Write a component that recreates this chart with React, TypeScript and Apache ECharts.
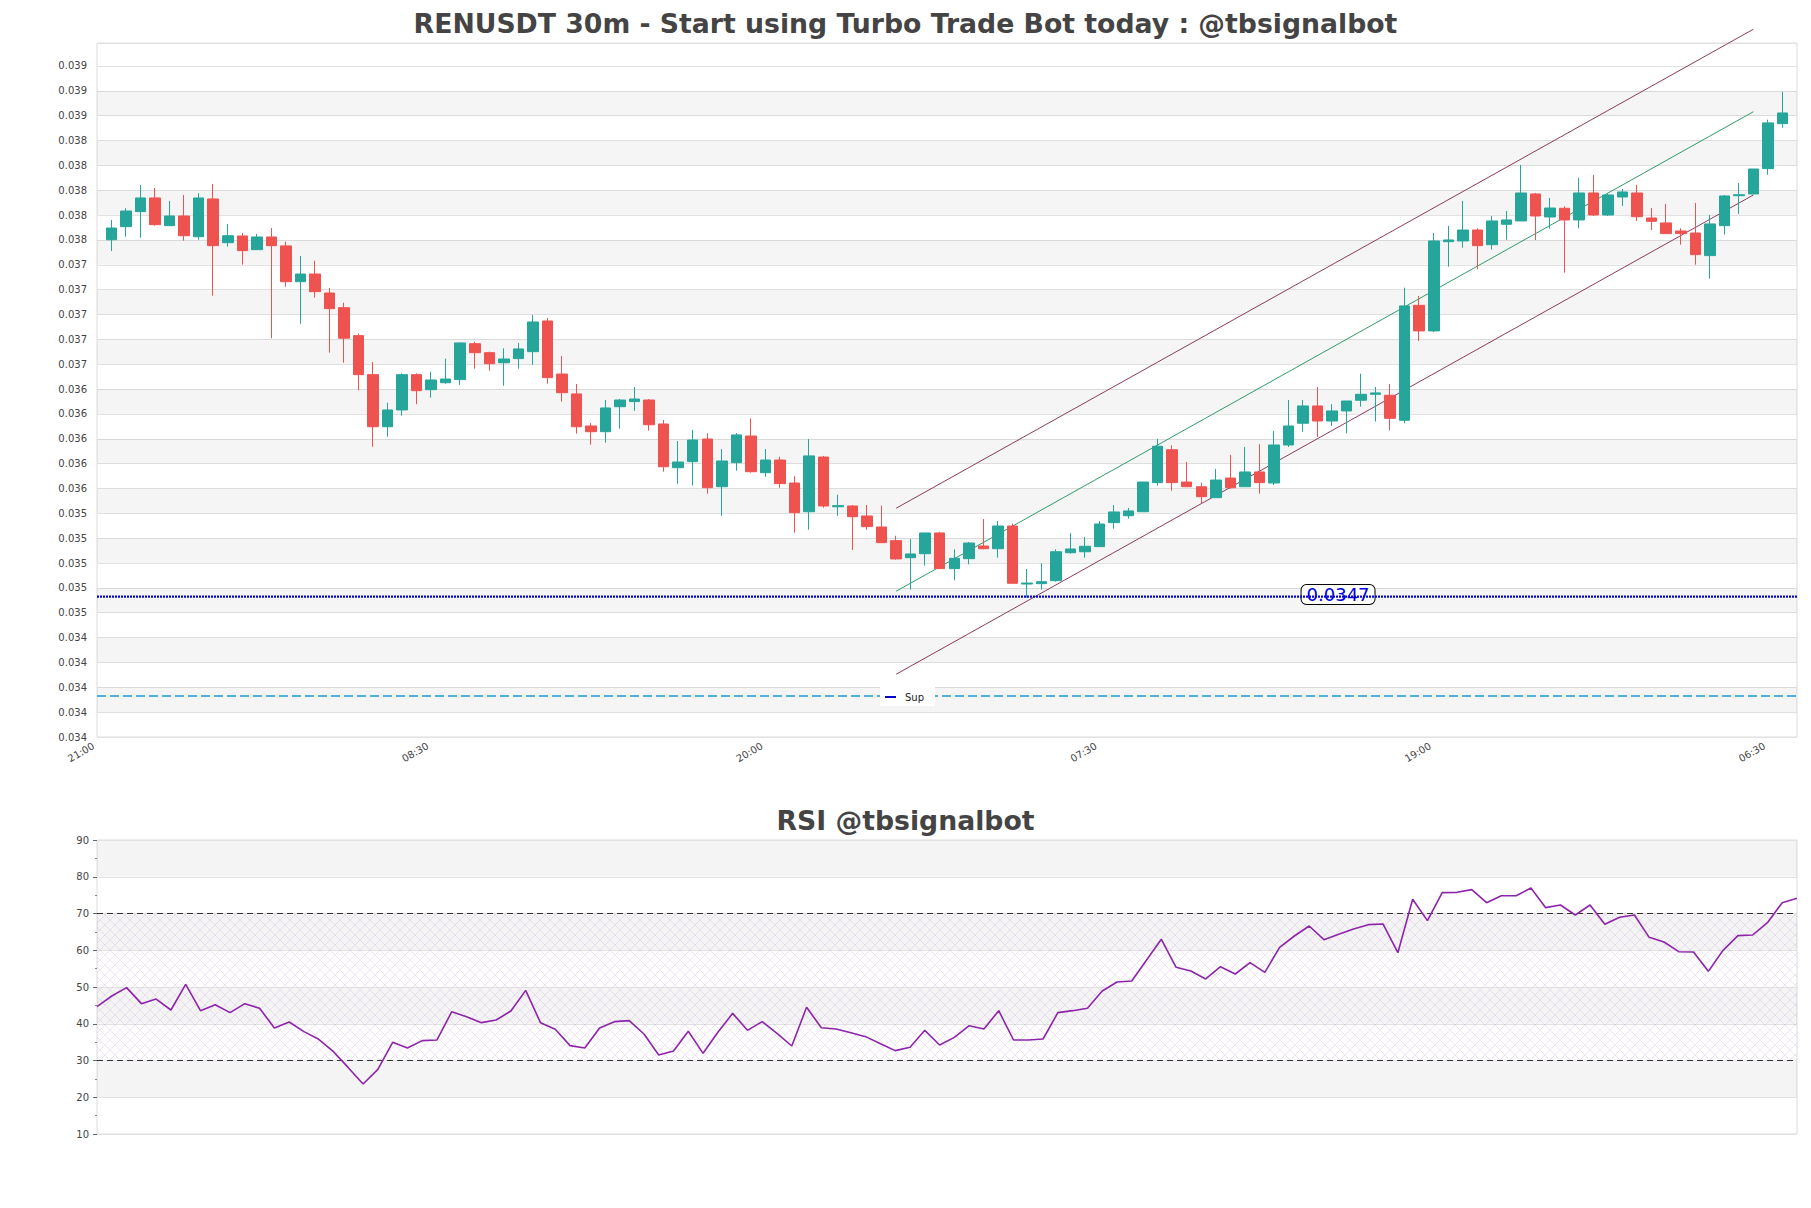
import React, { useEffect, useRef } from 'react';
import * as echarts from 'echarts';

// ---------- axis / categories ----------
const START_MINUTES = 21 * 60; // first category: 21:00
const STEP_MINUTES = 30;
const MAIN_CATEGORY_COUNT = 118; // 21:00 ... 07:30 (candles occupy 1..116)
const xTickEvery = 23;

// ---------- candles (30m) ----------
const opens = [
  0.037602, 0.037707, 0.037828, 0.037938, 0.037715, 0.037793, 0.037626, 0.037930, 0.037578, 0.037632,
  0.037522, 0.037624, 0.037552, 0.037264, 0.037326, 0.037173, 0.037055, 0.036830, 0.036516, 0.036097,
  0.036232, 0.036516, 0.036395, 0.036451, 0.036476, 0.036765, 0.036693, 0.036612, 0.036645, 0.036701,
  0.036948, 0.036521, 0.036361, 0.036103, 0.036057, 0.036258, 0.036299, 0.036312, 0.036119, 0.035767,
  0.035816, 0.035998, 0.035614, 0.035808, 0.036022, 0.035727, 0.035829, 0.035644, 0.035413, 0.035853,
  0.035453, 0.035459, 0.035379, 0.035290, 0.035180, 0.035043, 0.035075, 0.035242, 0.034955, 0.035035,
  0.035137, 0.035115, 0.035298, 0.034831, 0.034834, 0.034858, 0.035083, 0.035091, 0.035132, 0.035325,
  0.035381, 0.035413, 0.035647, 0.035912, 0.035652, 0.035614, 0.035526, 0.035684, 0.035614, 0.035733,
  0.035644, 0.035950, 0.036125, 0.036264, 0.036143, 0.036224, 0.036310, 0.036358, 0.036350, 0.036149,
  0.037074, 0.036868, 0.037586, 0.037592, 0.037680, 0.037562, 0.037726, 0.037753, 0.037970, 0.037785,
  0.037855, 0.037761, 0.037978, 0.037801, 0.037946, 0.037978, 0.037777, 0.037737, 0.037672, 0.037656,
  0.037474, 0.037715, 0.037956, 0.037970, 0.038174, 0.038536,
];
const closes = [
  0.037696, 0.037833, 0.037938, 0.037723, 0.037793, 0.037634, 0.037938, 0.037554, 0.037634, 0.037514,
  0.037624, 0.037554, 0.037264, 0.037326, 0.037184, 0.037047, 0.036809, 0.036516, 0.036097, 0.036232,
  0.036516, 0.036387, 0.036473, 0.036481, 0.036771, 0.036693, 0.036604, 0.036642, 0.036723, 0.036940,
  0.036492, 0.036371, 0.036097, 0.036057, 0.036248, 0.036312, 0.036320, 0.036113, 0.035775, 0.035813,
  0.035990, 0.035606, 0.035821, 0.036031, 0.035735, 0.035829, 0.035639, 0.035405, 0.035862, 0.035459,
  0.035462, 0.035373, 0.035293, 0.035164, 0.035033, 0.035073, 0.035242, 0.034955, 0.035038, 0.035161,
  0.035115, 0.035298, 0.034837, 0.034839, 0.034850, 0.035091, 0.035113, 0.035135, 0.035314, 0.035411,
  0.035419, 0.035652, 0.035940, 0.035647, 0.035614, 0.035534, 0.035668, 0.035606, 0.035733, 0.035647,
  0.035950, 0.036103, 0.036264, 0.036143, 0.036224, 0.036304, 0.036358, 0.036369, 0.036165, 0.037069,
  0.036868, 0.037592, 0.037600, 0.037680, 0.037554, 0.037753, 0.037761, 0.037978, 0.037793, 0.037857,
  0.037761, 0.037978, 0.037801, 0.037962, 0.037986, 0.037787, 0.037750, 0.037651, 0.037651, 0.037482,
  0.037729, 0.037954, 0.037964, 0.038171, 0.038542, 0.038622,
];
const lows = [
  0.037511, 0.037626, 0.037618, 0.037715, 0.037715, 0.037594, 0.037602, 0.037152, 0.037546, 0.037401,
  0.037522, 0.036809, 0.037224, 0.036926, 0.037136, 0.036693, 0.036612, 0.036390, 0.035936, 0.036017,
  0.036186, 0.036278, 0.036331, 0.036443, 0.036433, 0.036564, 0.036548, 0.036427, 0.036564, 0.036596,
  0.036443, 0.036299, 0.036041, 0.035952, 0.035969, 0.036081, 0.036226, 0.036065, 0.035735, 0.035639,
  0.035623, 0.035558, 0.035381, 0.035743, 0.035727, 0.035695, 0.035606, 0.035244, 0.035268, 0.035445,
  0.035381, 0.035105, 0.035268, 0.035164, 0.035027, 0.034786, 0.034979, 0.034952, 0.034861, 0.034990,
  0.035111, 0.035043, 0.034837, 0.034721, 0.034786, 0.034850, 0.035075, 0.035043, 0.035132, 0.035276,
  0.035357, 0.035413, 0.035623, 0.035582, 0.035614, 0.035478, 0.035526, 0.035598, 0.035614, 0.035558,
  0.035628, 0.035934, 0.036057, 0.036014, 0.036103, 0.036044, 0.036258, 0.036138, 0.036068, 0.036125,
  0.036787, 0.036859, 0.037385, 0.037538, 0.037364, 0.037522, 0.037602, 0.037753, 0.037600, 0.037691,
  0.037337, 0.037694, 0.037793, 0.037793, 0.037874, 0.037753, 0.037680, 0.037651, 0.037562, 0.037401,
  0.037288, 0.037643, 0.037809, 0.037970, 0.038125, 0.038504,
];
const highs = [
  0.037761, 0.037855, 0.038043, 0.038018, 0.037914, 0.037962, 0.037976, 0.038051, 0.037729, 0.037656,
  0.037648, 0.037696, 0.037586, 0.037471, 0.037433, 0.037214, 0.037095, 0.036846, 0.036618, 0.036290,
  0.036527, 0.036527, 0.036540, 0.036645, 0.036775, 0.036781, 0.036701, 0.036728, 0.036771, 0.036996,
  0.036972, 0.036666, 0.036441, 0.036127, 0.036312, 0.036320, 0.036417, 0.036320, 0.036151, 0.035982,
  0.036071, 0.036044, 0.035918, 0.036047, 0.036165, 0.035918, 0.035856, 0.035698, 0.035998, 0.035862,
  0.035550, 0.035467, 0.035467, 0.035462, 0.035220, 0.035193, 0.035242, 0.035250, 0.035111, 0.035169,
  0.035354, 0.035338, 0.035317, 0.034952, 0.034998, 0.035111, 0.035242, 0.035210, 0.035338, 0.035467,
  0.035443, 0.035652, 0.035998, 0.035948, 0.035813, 0.035647, 0.035757, 0.035870, 0.035934, 0.035956,
  0.036063, 0.036312, 0.036312, 0.036417, 0.036278, 0.036304, 0.036524, 0.036417, 0.036441, 0.037216,
  0.037149, 0.037656, 0.037713, 0.037914, 0.037694, 0.037793, 0.037833, 0.038204, 0.037978, 0.037938,
  0.037871, 0.038099, 0.038123, 0.037978, 0.038010, 0.038043, 0.037857, 0.037890, 0.037694, 0.037898,
  0.037801, 0.037962, 0.038059, 0.038171, 0.038568, 0.038791,
];

// ---------- RSI ----------
const rsiValues = [
  44.65, 47.55, 49.82, 45.47, 46.73, 43.74, 50.73, 43.56, 45.19, 43.02,
  45.47, 44.2, 38.84, 40.48, 37.85, 35.76, 32.4, 28.05, 23.6, 27.6,
  34.94, 33.4, 35.4, 35.58, 43.29, 41.93, 40.3, 41.02, 43.47, 49.09,
  40.3, 38.48, 34.04, 33.4, 38.84, 40.57, 40.84, 37.21, 31.5, 32.59,
  37.94, 31.95, 37.67, 42.83, 38.21, 40.57, 37.39, 33.95, 44.47, 38.93,
  38.57, 37.57, 36.49, 34.58, 32.68, 33.58, 38.21, 34.22, 36.3, 39.48,
  38.57, 43.56, 35.58, 35.58, 35.85, 43.02, 43.56, 44.2, 48.91, 51.36,
  51.63, 57.35, 62.97, 55.35, 54.35, 52.18, 55.53, 53.54, 56.62, 53.99,
  60.79, 63.88, 66.6, 62.88, 64.33, 65.78, 66.96, 67.14, 59.34, 73.86,
  68.05, 75.67, 75.76, 76.49, 72.95, 74.85, 74.85, 76.94, 71.59, 72.31,
  69.59, 72.31, 67.05, 68.96, 69.59, 63.51, 62.24, 59.61, 59.52, 54.26,
  59.98, 63.97, 64.15, 67.5, 72.95, 74.13,
];
const rsiOverbought = 70;
const rsiOversold = 30;
const rsiMin = 10;
const rsiMax = 90;
const rsiStep = 10;

// ---------- price axis ----------
const priceMin = 0.0336;
const priceMax = 0.039185;
const priceStep = 0.0002;

// ---------- levels / channel ----------
const supportLevel = 0.03473;
const supportText = '0.0347';
const supportLabelCategory = 85;
const lowerLevel = 0.03393;
const channelX = [55, 114];
const channelUpper = [0.035441, 0.039296];
const channelMid = [0.034773, 0.038632];
const channelLower = [0.034105, 0.037962];

const mainTitle = 'RENUSDT 30m - Start using Turbo Trade Bot today : @tbsignalbot';
const rsiTitle = 'RSI @tbsignalbot';
const legendText = 'Sup';

const FONT = "'DejaVu Sans', 'Liberation Sans', sans-serif";
const UP = '#26a69a';
const DOWN = '#ef5350';

function timeLabel(i: number): string {
  const m = (START_MINUTES + i * STEP_MINUTES) % 1440;
  const hh = String(Math.floor(m / 60)).padStart(2, '0');
  const mm = String(m % 60).padStart(2, '0');
  return `${hh}:${mm}`;
}

function makeHatch() {
  const size = 10;
  const c = document.createElement('canvas');
  c.width = size;
  c.height = size;
  const g = c.getContext('2d');
  if (g) {
    g.strokeStyle = 'rgba(190,150,210,0.42)';
    g.lineWidth = 0.6;
    g.beginPath();
    g.moveTo(0, 0);
    g.lineTo(size, size);
    g.moveTo(size, 0);
    g.lineTo(0, size);
    g.stroke();
  }
  return { image: c, repeat: 'repeat', imageWidth: size, imageHeight: size };
}

function buildOption() {
  const mainCategories = Array.from({ length: MAIN_CATEGORY_COUNT }, (_, i) => timeLabel(i));
  const rsiCategories = rsiValues.map((_, i) => timeLabel(i + 1));
  const candleData = opens.map((o, i) => [i + 1, o, closes[i], lows[i], highs[i]]);

  const bands: any[] = [];
  const nBands = Math.round((priceMax - priceMin) / priceStep);
  for (let k = 1; k < nBands - 1; k += 2) {
    bands.push([{ yAxis: priceMin + k * priceStep }, { yAxis: priceMin + (k + 1) * priceStep }]);
  }

  const lastCat = MAIN_CATEGORY_COUNT - 1;

  return {
    animation: false,
    backgroundColor: '#ffffff',
    textStyle: { fontFamily: FONT },
    grid: [
      { left: 97, top: 43, width: 1700, height: 694, show: true, borderColor: '#dcdcdc', borderWidth: 1, backgroundColor: 'transparent' },
      { left: 97, top: 840, width: 1700, height: 294, show: true, borderColor: '#dcdcdc', borderWidth: 1, backgroundColor: 'transparent' },
    ],
    xAxis: [
      {
        type: 'category',
        gridIndex: 0,
        data: mainCategories,
        boundaryGap: false,
        axisLine: { show: false },
        axisTick: { show: false },
        splitLine: { show: false },
        axisLabel: {
          interval: xTickEvery - 1,
          rotate: 30,
          fontSize: 10,
          color: '#444',
          fontFamily: FONT,
          margin: 6,
          padding: [0, 4, 0, 0],
        },
      },
      {
        type: 'category',
        gridIndex: 1,
        data: rsiCategories,
        boundaryGap: false,
        axisLine: { show: false },
        axisTick: { show: false },
        axisLabel: { show: false },
        splitLine: { show: false },
      },
    ],
    yAxis: [
      {
        type: 'value',
        gridIndex: 0,
        min: priceMin,
        max: priceMax,
        interval: priceStep,
        axisLine: { show: false },
        axisTick: { show: false },
        axisLabel: {
          fontSize: 10,
          color: '#444',
          fontFamily: FONT,
          margin: 10,
          showMaxLabel: false,
          formatter: (v: number) => v.toFixed(3),
        },
        splitLine: { show: true, lineStyle: { color: '#e2e2e2', width: 1 } },
        splitArea: { show: false },
      },
      {
        type: 'value',
        gridIndex: 1,
        min: rsiMin,
        max: rsiMax,
        interval: rsiStep,
        axisLine: { show: false },
        axisTick: { show: true, length: 4, lineStyle: { color: '#666' } },
        minorTick: { show: true, splitNumber: 2, length: 2, lineStyle: { color: '#888' } },
        axisLabel: { fontSize: 10, color: '#444', fontFamily: FONT, margin: 8 },
        splitLine: { show: true, lineStyle: { color: '#e2e2e2', width: 1 } },
        splitArea: { show: true, areaStyle: { color: ['rgba(255,255,255,0)', 'rgba(0,0,0,0.045)'] } },
      },
    ],
    series: [
      {
        type: 'candlestick',
        name: 'price',
        xAxisIndex: 0,
        yAxisIndex: 0,
        data: candleData,
        encode: { x: 0, y: [1, 2, 3, 4] },
        barWidth: 11,
        itemStyle: { color: UP, color0: DOWN, borderColor: UP, borderColor0: DOWN, borderWidth: 1 },
        markArea: {
          silent: true,
          z: 0,
          itemStyle: { color: 'rgba(0,0,0,0.04)' },
          label: { show: false },
          data: bands,
        },
        z: 5,
      },
      {
        type: 'line',
        name: 'Sup',
        xAxisIndex: 0,
        yAxisIndex: 0,
        data: [[0, supportLevel], [lastCat, supportLevel]],
        symbol: 'none',
        lineStyle: { color: '#0707c8', width: 2.4, type: [2, 1] },
        z: 6,
        markPoint: {
          symbol: 'rect',
          symbolSize: 1,
          itemStyle: { color: 'rgba(0,0,0,0)' },
          silent: true,
          data: [{ coord: [supportLabelCategory, supportLevel], value: supportText }],
          label: {
            show: true,
            position: 'inside',
            offset: [6, -2],
            formatter: supportText,
            color: '#0000e0',
            fontSize: 18,
            fontFamily: FONT,
            lineHeight: 19,
            backgroundColor: '#ffffff',
            borderColor: '#000000',
            borderWidth: 1,
            borderRadius: 5,
            padding: [0, 5, 0, 5],
          },
        },
      },
      {
        type: 'line',
        name: 'lower',
        xAxisIndex: 0,
        yAxisIndex: 0,
        data: [[0, lowerLevel], [lastCat, lowerLevel]],
        symbol: 'none',
        lineStyle: { color: '#1b98d2', width: 1.3, type: [9, 4] },
        z: 4,
      },
      {
        type: 'line',
        name: 'channelUpper',
        xAxisIndex: 0,
        yAxisIndex: 0,
        clip: false,
        data: channelX.map((x, i) => [x, channelUpper[i]]),
        symbol: 'none',
        lineStyle: { color: '#8e3b5e', width: 1 },
        z: 4,
      },
      {
        type: 'line',
        name: 'channelMid',
        xAxisIndex: 0,
        yAxisIndex: 0,
        clip: false,
        data: channelX.map((x, i) => [x, channelMid[i]]),
        symbol: 'none',
        lineStyle: { color: '#2e9e68', width: 1 },
        z: 4,
      },
      {
        type: 'line',
        name: 'channelLower',
        xAxisIndex: 0,
        yAxisIndex: 0,
        clip: false,
        data: channelX.map((x, i) => [x, channelLower[i]]),
        symbol: 'none',
        lineStyle: { color: '#8e3b5e', width: 1 },
        z: 4,
      },
      {
        type: 'line',
        name: 'RSI',
        xAxisIndex: 1,
        yAxisIndex: 1,
        data: rsiValues,
        symbol: 'none',
        lineStyle: { color: '#8e24aa', width: 1.6 },
        z: 5,
        markArea: {
          silent: true,
          itemStyle: { color: makeHatch() as any },
          label: { show: false },
          data: [[{ yAxis: rsiOversold }, { yAxis: rsiOverbought }]],
        },
        markLine: {
          silent: true,
          symbol: 'none',
          label: { show: false },
          lineStyle: { color: '#333', width: 1.2, type: [6, 4] },
          data: [{ yAxis: rsiOverbought }, { yAxis: rsiOversold }],
        },
      },
    ],
    graphic: [
      {
        type: 'text',
        x: 905.5,
        y: 23,
        z: 100,
        style: {
          text: mainTitle,
          fontSize: 26.7,
          fontWeight: 'bold',
          fontFamily: FONT,
          fill: '#444444',
          textAlign: 'center',
          textVerticalAlign: 'middle',
        },
      },
      {
        type: 'text',
        x: 905.5,
        y: 820,
        z: 100,
        style: {
          text: rsiTitle,
          fontSize: 26.7,
          fontWeight: 'bold',
          fontFamily: FONT,
          fill: '#444444',
          textAlign: 'center',
          textVerticalAlign: 'middle',
        },
      },
      {
        type: 'rect',
        z: 100,
        shape: { x: 880, y: 687, width: 55, height: 19 },
        style: { fill: '#ffffff' },
      },
      {
        type: 'line',
        z: 101,
        shape: { x1: 885, y1: 697, x2: 896, y2: 697 },
        style: { stroke: '#0707c8', lineWidth: 2 },
      },
      {
        type: 'text',
        z: 101,
        x: 905,
        y: 697,
        style: {
          text: legendText,
          fontSize: 10,
          fontFamily: FONT,
          fill: '#222',
          textAlign: 'left',
          textVerticalAlign: 'middle',
        },
      },
    ],
  };
}

export default function App() {
  const ref = useRef<HTMLDivElement>(null);
  useEffect(() => {
    if (!ref.current) return;
    const chart = echarts.init(ref.current, null, { renderer: 'svg' });
    chart.setOption(buildOption() as any);
    return () => chart.dispose();
  }, []);
  return (
    <div
      ref={ref}
      style={{ position: 'absolute', left: 0, top: 0, width: 1811, height: 1208, background: '#ffffff' }}
    />
  );
}
